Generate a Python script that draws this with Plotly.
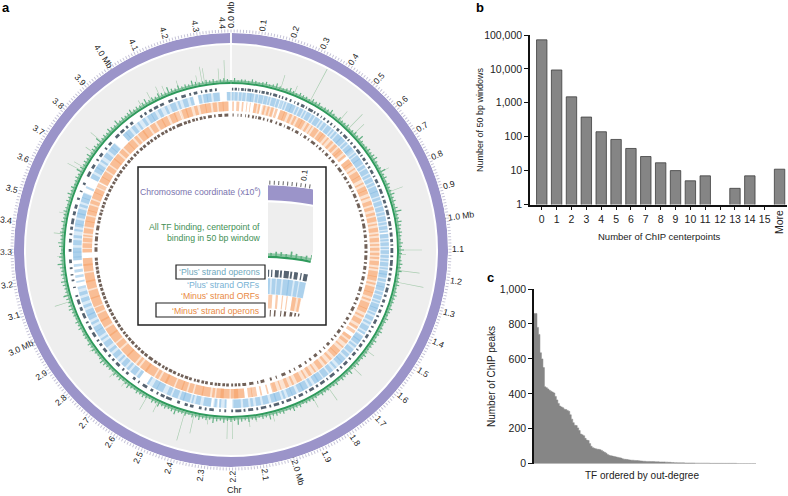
import math

import plotly.graph_objects as go

W, H = 788, 496
GENOME_MB = 4.41

# panel b
centerpoint_counts = list(range(16))
window_counts = [72000, 9300, 1500, 380, 140, 83, 45, 26, 17, 10, 5, 7, 1, 3, 7, 1, 11]
log_ticks = [1, 10, 100, 1000, 10000, 100000]
log_labels = ["1", "10", "100", "1,000", "10,000", "100,000"]

# panel c
tf_peaks = [
    860, 860, 780, 740, 635, 600, 550, 440, 435, 428, 420, 415, 410, 405, 385, 365, 345, 330, 325, 320,
    312, 310, 305, 300, 280, 255, 235, 220, 218, 205, 190, 170, 165, 160, 145, 135, 133, 115, 100, 92,
    88, 85, 83, 82, 80, 76, 70, 65, 60, 52, 48, 46, 44, 42, 40, 38, 36, 34, 32, 28,
    26, 25, 24, 22, 21, 20, 20, 19, 18, 18, 17, 16, 15, 14, 14, 13, 13, 13, 12, 12,
    12, 11, 11, 11, 10, 10, 10, 10, 9, 9, 8, 8, 7, 7, 6, 6, 5, 5, 5, 5,
    5, 4, 4, 4, 4, 4, 4, 4, 3, 3, 3, 3, 3, 3, 3, 3, 3, 3, 2, 2,
    2, 2, 2, 2, 2, 2, 2, 2, 2, 2, 2, 2, 2, 2, 2, 2, 1, 1, 1, 1,
    1, 1, 1, 1, 1, 1, 1, 1, 1, 1,
]
peak_ticks = [0, 200, 400, 600, 800, 1000]
peak_labels = ["0", "200", "400", "600", "800", "1,000"]

# genome labels, Mb
coord_ticks = [round(i * 0.1, 1) for i in range(45)]
whole_mb_ticks = [0, 1, 2, 3, 4]

# tall binding peaks: position (Mb), height
tall_pos = [
    4.384, 4.29, 4.30, 4.36, 4.19, 4.27, 4.13, 4.106, 4.066, 4.02, 3.97, 3.797, 3.74, 3.667, 3.65,
    3.46, 3.375, 3.28, 3.12, 3.09, 2.87, 2.74, 2.68, 2.57, 2.52, 2.40, 2.36, 2.30, 2.22, 2.20, 2.13,
    2.10, 2.03, 1.85, 1.773, 1.64, 1.55, 1.237, 1.188, 1.12, 1.1025, 0.855, 0.765, 0.571, 0.54, 0.49,
    0.343, 0.27, 0.21,
]
tall_height = [
    22, 18, 16, 14, 10, 10, 10, 12, 11, 8, 6, 15, 10, 12, 17,
    8, 10, 6, 5, 17, 6, 8, 7, 16, 12, 30, 20, 8, 21, 21, 10,
    6, 9, 12, 16, 13, 10, 28, 22, 7, 23, 15, 10, 15, 21, 13,
    37, 9, 15,
]

# short binding signal, evenly spaced round the chromosome
binding_signal = [
    2, 4, 2, 3, 3, 2, 4, 3, 2, 3, 4, 2, 3, 5, 3, 2, 3, 5, 3, 2, 4, 3, 3, 2, 4, 3, 4, 2, 3, 3,
    5, 3, 2, 4, 3, 3, 4, 2, 3, 4, 3, 6, 3, 2, 3, 4, 3, 4, 5, 3, 2, 3, 6, 3, 4, 2, 4, 3, 3, 5,
    3, 4, 2, 4, 7, 3, 3, 5, 4, 3, 4, 3, 2, 4, 3, 5, 3, 2, 3, 4, 3, 4, 2, 3, 3, 4, 2, 3, 4, 3,
    3, 2, 4, 3, 2, 4, 3, 2, 3, 4, 3, 2, 4, 3, 3, 2, 3, 4, 3, 2, 4, 3, 2, 5, 3, 3, 4, 2, 4, 3,
    2, 3, 3, 4, 2, 3, 4, 3, 3, 2, 4, 3, 5, 3, 2, 4, 3, 4, 3, 6, 3, 4, 2, 4, 3, 5, 3, 4, 7, 3,
    4, 3, 5, 3, 4, 6, 3, 4, 3, 5, 3, 4, 2, 4, 3, 3, 6, 4, 3, 4, 3, 5, 3, 4, 2, 3, 4, 3, 4, 2,
    3, 5, 3, 2, 4, 3, 4, 2, 3, 3, 4, 5, 3, 2, 3, 4, 3, 4, 2, 3, 3, 2, 4, 3, 4, 2, 3, 3, 5, 4,
    3, 4, 6, 3, 3, 4, 5, 3, 4, 3, 4, 6, 3, 4, 3, 2, 4, 5, 3, 3, 4, 3, 2, 4, 3, 3, 4, 3, 2, 4,
    3, 5, 3, 4, 2, 3, 4, 3, 6, 4, 3, 4, 3, 5, 3, 4, 4, 3, 7, 3, 4, 3, 5, 4, 3, 6, 3, 4, 3, 4,
    5, 3, 4, 3, 4, 6, 3, 4, 3, 5, 4, 3, 7, 4, 3, 5, 3, 4, 3, 6, 4, 3, 3, 4, 3, 4, 2, 3, 4, 3,
]

plus_operons = [
    (0.004, 0.010), (0.016, 0.026), (0.032, 0.036), (0.044, 0.056), (0.060, 0.066), (0.072, 0.088), (0.092, 0.098),
    (0.104, 0.116), (0.124, 0.128), (0.134, 0.148), (0.154, 0.166), (0.172, 0.178), (0.186, 0.204), (0.212, 0.218),
    (0.226, 0.232), (0.242, 0.250), (0.262, 0.270), (0.284, 0.288), (0.298, 0.306), (0.316, 0.332), (0.340, 0.344),
    (0.352, 0.374), (0.380, 0.386), (0.396, 0.404), (0.416, 0.420), (0.430, 0.438), (0.450, 0.458), (0.468, 0.476),
    (0.488, 0.492), (0.504, 0.516), (0.526, 0.532), (0.544, 0.564), (0.572, 0.578), (0.590, 0.598), (0.610, 0.620),
    (0.630, 0.652), (0.660, 0.666), (0.676, 0.690), (0.700, 0.708), (0.720, 0.728), (0.738, 0.756), (0.766, 0.772),
    (0.784, 0.802), (0.812, 0.820), (0.830, 0.852), (0.862, 0.870), (0.880, 0.896), (0.906, 0.916), (0.926, 0.950),
    (0.958, 0.966), (0.976, 0.998), (1.006, 1.014), (1.026, 1.044), (1.054, 1.068), (1.078, 1.084), (1.094, 1.116),
    (1.126, 1.134), (1.146, 1.172), (1.180, 1.192), (1.204, 1.214), (1.224, 1.240), (1.252, 1.258), (1.268, 1.290),
    (1.300, 1.310), (1.322, 1.336), (1.348, 1.356), (1.368, 1.384), (1.396, 1.404), (1.416, 1.436), (1.448, 1.456),
    (1.470, 1.478), (1.490, 1.508), (1.520, 1.528), (1.540, 1.556), (1.568, 1.574), (1.586, 1.604), (1.618, 1.626),
    (1.640, 1.660), (1.672, 1.680), (1.692, 1.700), (1.716, 1.740), (1.752, 1.758), (1.770, 1.792), (1.804, 1.814),
    (1.826, 1.848), (1.860, 1.866), (1.880, 1.900), (1.914, 1.922), (1.936, 1.958), (1.970, 1.980), (1.992, 2.016),
    (2.028, 2.036), (2.050, 2.074), (2.086, 2.094), (2.108, 2.130), (2.142, 2.150), (2.160, 2.186), (2.196, 2.204),
    (2.226, 2.234), (2.250, 2.256), (2.280, 2.300), (2.312, 2.320), (2.334, 2.346), (2.370, 2.386), (2.396, 2.410),
    (2.432, 2.444), (2.470, 2.496), (2.504, 2.522), (2.534, 2.542), (2.560, 2.572), (2.590, 2.612), (2.630, 2.636),
    (2.652, 2.664), (2.690, 2.702), (2.716, 2.724), (2.742, 2.762), (2.776, 2.786), (2.800, 2.810), (2.826, 2.846),
    (2.860, 2.872), (2.884, 2.892), (2.908, 2.930), (2.944, 2.962), (2.976, 2.984), (3.000, 3.024), (3.036, 3.052),
    (3.066, 3.088), (3.100, 3.108), (3.140, 3.146), (3.170, 3.178), (3.196, 3.202), (3.224, 3.232), (3.250, 3.266),
    (3.300, 3.312), (3.340, 3.356), (3.372, 3.380), (3.396, 3.410), (3.420, 3.446), (3.460, 3.478), (3.490, 3.508),
    (3.530, 3.540), (3.566, 3.572), (3.600, 3.610), (3.640, 3.664), (3.680, 3.700), (3.720, 3.728), (3.742, 3.760),
    (3.782, 3.790), (3.806, 3.822), (3.850, 3.870), (3.880, 3.900), (3.912, 3.922), (3.936, 3.950), (3.990, 4.000),
    (4.012, 4.022), (4.036, 4.050), (4.060, 4.080), (4.090, 4.108), (4.130, 4.150), (4.162, 4.170), (4.190, 4.210),
    (4.226, 4.234), (4.246, 4.262), (4.278, 4.284), (4.296, 4.306), (4.316, 4.328), (4.340, 4.348),
]

# stretches of the ORF rings that are covered, with the white gaps left out
plus_regions = [
    (0.002, 0.222), (0.235, 0.620), (0.630, 1.020), (1.030, 1.500), (1.505, 2.200), (2.225, 2.260), (2.265, 2.285),
    (2.295, 2.600), (2.640, 3.130), (3.260, 3.570), (3.640, 3.830), (3.880, 4.240), (4.260, 4.360), (4.390, 4.408),
]
minus_regions = [
    (0.110, 0.142), (0.150, 0.210), (0.240, 0.620), (0.640, 1.500), (1.540, 2.000), (2.140, 3.268), (3.296, 3.620),
    (3.640, 4.140), (4.160, 4.400),
]

plus_orfs = [
    (0.003, 0.012), (0.016, 0.030), (0.036, 0.048), (0.052, 0.066), (0.072, 0.092), (0.088, 0.104), (0.110, 0.122),
    (0.126, 0.146), (0.150, 0.166), (0.170, 0.178), (0.184, 0.204), (0.208, 0.220), (0.224, 0.238), (0.244, 0.252),
    (0.258, 0.280), (0.276, 0.296), (0.302, 0.312), (0.318, 0.334), (0.340, 0.348), (0.354, 0.374), (0.380, 0.392),
    (0.398, 0.420), (0.426, 0.434), (0.442, 0.456), (0.462, 0.484), (0.490, 0.498), (0.506, 0.516), (0.522, 0.548),
    (0.542, 0.566), (0.572, 0.584), (0.590, 0.612), (0.606, 0.630), (0.636, 0.644), (0.650, 0.672), (0.668, 0.696),
    (0.702, 0.716), (0.722, 0.744), (0.750, 0.762), (0.768, 0.786), (0.792, 0.804), (0.810, 0.836), (0.832, 0.856),
    (0.862, 0.874), (0.880, 0.900), (0.906, 0.926), (0.932, 0.944), (0.950, 0.972), (0.978, 0.988), (0.994, 1.010),
    (1.016, 1.024), (1.030, 1.048), (1.054, 1.062), (1.068, 1.084), (1.090, 1.098), (1.104, 1.120), (1.126, 1.138),
    (1.144, 1.152), (1.158, 1.176), (1.182, 1.190), (1.196, 1.214), (1.210, 1.228), (1.234, 1.246), (1.252, 1.272),
    (1.268, 1.288), (1.294, 1.306), (1.312, 1.330), (1.336, 1.344), (1.350, 1.372), (1.368, 1.388), (1.394, 1.402),
    (1.412, 1.430), (1.438, 1.448), (1.458, 1.482), (1.490, 1.500), (1.510, 1.536), (1.530, 1.552), (1.560, 1.570),
    (1.580, 1.602), (1.610, 1.626), (1.636, 1.660), (1.654, 1.676), (1.690, 1.700), (1.712, 1.730), (1.738, 1.764),
    (1.770, 1.796), (1.790, 1.812), (1.824, 1.836), (1.846, 1.874), (1.868, 1.892), (1.904, 1.926), (1.922, 1.944),
    (1.956, 1.966), (1.976, 2.004), (1.998, 2.022), (2.034, 2.060), (2.070, 2.092), (2.104, 2.116), (2.126, 2.150),
    (2.160, 2.194), (2.226, 2.234), (2.250, 2.258), (2.270, 2.280), (2.296, 2.330), (2.344, 2.366), (2.376, 2.384),
    (2.392, 2.424), (2.418, 2.438), (2.448, 2.474), (2.482, 2.500), (2.520, 2.552), (2.548, 2.572), (2.590, 2.600),
    (2.640, 2.654), (2.664, 2.690), (2.700, 2.712), (2.722, 2.744), (2.754, 2.764), (2.776, 2.800), (2.812, 2.826),
    (2.840, 2.866), (2.878, 2.888), (2.900, 2.928), (2.924, 2.948), (2.960, 2.972), (2.984, 3.010), (3.004, 3.030),
    (3.042, 3.056), (3.070, 3.088), (3.100, 3.116), (3.130, 3.142), (3.160, 3.168), (3.182, 3.194), (3.206, 3.220),
    (3.232, 3.244), (3.262, 3.278), (3.274, 3.300), (3.296, 3.318), (3.330, 3.352), (3.362, 3.374), (3.392, 3.402),
    (3.412, 3.426), (3.422, 3.444), (3.454, 3.476), (3.470, 3.494), (3.504, 3.516), (3.526, 3.548), (3.544, 3.566),
    (3.590, 3.600), (3.640, 3.662), (3.674, 3.698), (3.692, 3.714), (3.726, 3.736), (3.752, 3.774), (3.786, 3.808),
    (3.804, 3.826), (3.880, 3.900), (3.896, 3.918), (3.930, 3.948), (3.962, 3.972), (3.990, 4.004), (4.016, 4.040),
    (4.036, 4.056), (4.070, 4.086), (4.104, 4.116), (4.130, 4.156), (4.166, 4.176), (4.190, 4.212), (4.224, 4.238),
    (4.262, 4.276), (4.284, 4.304), (4.300, 4.320), (4.330, 4.358), (4.392, 4.408),
]

minus_orfs = [
    (0.006, 0.014), (0.026, 0.040), (0.052, 0.060), (0.074, 0.078), (0.090, 0.094), (0.110, 0.124), (0.132, 0.140),
    (0.156, 0.166), (0.176, 0.186), (0.194, 0.206), (0.214, 0.226), (0.238, 0.262), (0.258, 0.274), (0.286, 0.300),
    (0.310, 0.322), (0.332, 0.354), (0.350, 0.368), (0.380, 0.392), (0.404, 0.410), (0.420, 0.444), (0.452, 0.472),
    (0.468, 0.486), (0.498, 0.506), (0.520, 0.534), (0.544, 0.560), (0.570, 0.586), (0.582, 0.600), (0.612, 0.624),
    (0.640, 0.664), (0.660, 0.676), (0.690, 0.698), (0.710, 0.738), (0.734, 0.754), (0.770, 0.778), (0.790, 0.812),
    (0.808, 0.828), (0.842, 0.850), (0.864, 0.884), (0.894, 0.910), (0.922, 0.936), (0.944, 0.966), (0.976, 0.984),
    (0.996, 1.016), (1.026, 1.034), (1.044, 1.064), (1.074, 1.082), (1.092, 1.106), (1.116, 1.128), (1.136, 1.146),
    (1.156, 1.176), (1.186, 1.194), (1.204, 1.232), (1.228, 1.250), (1.260, 1.270), (1.280, 1.310), (1.306, 1.328),
    (1.340, 1.350), (1.360, 1.392), (1.388, 1.410), (1.424, 1.434), (1.446, 1.470), (1.484, 1.496), (1.506, 1.522),
    (1.540, 1.556), (1.566, 1.582), (1.600, 1.608), (1.624, 1.650), (1.646, 1.666), (1.680, 1.692), (1.710, 1.722),
    (1.736, 1.760), (1.776, 1.784), (1.800, 1.816), (1.830, 1.838), (1.854, 1.880), (1.896, 1.906), (1.922, 1.938),
    (1.960, 1.966), (1.982, 2.006), (2.024, 2.032), (2.056, 2.064), (2.080, 2.106), (2.102, 2.124), (2.140, 2.190),
    (2.170, 2.206), (2.212, 2.256), (2.240, 2.276), (2.284, 2.296), (2.306, 2.346), (2.340, 2.382), (2.390, 2.412),
    (2.420, 2.446), (2.440, 2.476), (2.484, 2.530), (2.520, 2.556), (2.566, 2.582), (2.590, 2.640), (2.630, 2.668),
    (2.678, 2.690), (2.700, 2.752), (2.744, 2.790), (2.800, 2.826), (2.834, 2.880), (2.872, 2.912), (2.922, 2.960),
    (2.952, 2.992), (3.000, 3.024), (3.030, 3.076), (3.070, 3.110), (3.118, 3.160), (3.152, 3.196), (3.204, 3.240),
    (3.232, 3.268), (3.296, 3.312), (3.318, 3.340), (3.346, 3.366), (3.372, 3.380), (3.388, 3.412), (3.420, 3.448),
    (3.444, 3.470), (3.478, 3.500), (3.496, 3.524), (3.532, 3.550), (3.558, 3.590), (3.586, 3.610), (3.618, 3.636),
    (3.644, 3.672), (3.668, 3.700), (3.708, 3.732), (3.740, 3.776), (3.770, 3.802), (3.812, 3.834), (3.842, 3.876),
    (3.872, 3.900), (3.910, 3.926), (3.934, 3.968), (3.960, 3.994), (4.004, 4.030), (4.040, 4.072), (4.066, 4.096),
    (4.108, 4.136), (4.132, 4.158), (4.170, 4.196), (4.190, 4.218), (4.232, 4.248), (4.260, 4.290), (4.286, 4.312),
    (4.322, 4.342), (4.350, 4.374), (4.370, 4.396),
]

minus_operons = [
    (0.008, 0.014), (0.034, 0.038), (0.050, 0.056), (0.074, 0.078), (0.088, 0.096), (0.110, 0.120), (0.128, 0.134),
    (0.142, 0.158), (0.168, 0.176), (0.190, 0.196), (0.206, 0.218), (0.236, 0.244), (0.256, 0.270), (0.284, 0.288),
    (0.300, 0.318), (0.330, 0.336), (0.348, 0.366), (0.380, 0.384), (0.400, 0.414), (0.426, 0.432), (0.446, 0.470),
    (0.482, 0.488), (0.500, 0.512), (0.524, 0.530), (0.544, 0.560), (0.572, 0.580), (0.592, 0.610), (0.624, 0.630),
    (0.644, 0.670), (0.682, 0.688), (0.700, 0.718), (0.730, 0.738), (0.750, 0.772), (0.784, 0.790), (0.802, 0.824),
    (0.836, 0.844), (0.856, 0.880), (0.892, 0.900), (0.912, 0.930), (0.942, 0.952), (0.964, 0.990), (1.000, 1.010),
    (1.022, 1.040), (1.052, 1.060), (1.072, 1.096), (1.106, 1.118), (1.130, 1.154), (1.166, 1.174), (1.186, 1.206),
    (1.218, 1.226), (1.240, 1.262), (1.274, 1.282), (1.296, 1.320), (1.332, 1.340), (1.354, 1.370), (1.384, 1.392),
    (1.406, 1.430), (1.444, 1.452), (1.468, 1.484), (1.498, 1.506), (1.522, 1.530), (1.546, 1.566), (1.582, 1.590),
    (1.606, 1.614), (1.634, 1.650), (1.668, 1.674), (1.694, 1.702), (1.722, 1.740), (1.760, 1.770), (1.790, 1.798),
    (1.820, 1.836), (1.858, 1.864), (1.884, 1.892), (1.914, 1.936), (1.962, 1.968), (1.990, 2.000), (2.030, 2.050),
    (2.062, 2.068), (2.088, 2.110), (2.126, 2.146), (2.156, 2.168), (2.174, 2.186), (2.194, 2.204), (2.216, 2.230),
    (2.236, 2.250), (2.260, 2.274), (2.278, 2.290), (2.300, 2.314), (2.326, 2.340), (2.346, 2.360), (2.370, 2.384),
    (2.390, 2.400), (2.412, 2.426), (2.432, 2.450), (2.458, 2.472), (2.478, 2.490), (2.500, 2.516), (2.522, 2.540),
    (2.548, 2.562), (2.568, 2.580), (2.590, 2.606), (2.612, 2.630), (2.640, 2.664), (2.674, 2.692), (2.698, 2.716),
    (2.724, 2.738), (2.744, 2.758), (2.768, 2.786), (2.792, 2.810), (2.818, 2.832), (2.838, 2.850), (2.860, 2.876),
    (2.882, 2.900), (2.908, 2.924), (2.930, 2.944), (2.952, 2.968), (2.974, 2.990), (3.000, 3.016), (3.022, 3.038),
    (3.046, 3.062), (3.068, 3.084), (3.092, 3.108), (3.114, 3.130), (3.138, 3.154), (3.160, 3.176), (3.184, 3.200),
    (3.206, 3.220), (3.228, 3.246), (3.252, 3.268), (3.298, 3.322), (3.332, 3.340), (3.352, 3.378), (3.388, 3.396),
    (3.410, 3.436), (3.446, 3.460), (3.466, 3.480), (3.490, 3.504), (3.510, 3.520), (3.530, 3.544), (3.550, 3.562),
    (3.572, 3.588), (3.594, 3.610), (3.620, 3.636), (3.642, 3.656), (3.666, 3.680), (3.686, 3.700), (3.710, 3.726),
    (3.732, 3.748), (3.758, 3.772), (3.778, 3.790), (3.800, 3.816), (3.822, 3.838), (3.848, 3.862), (3.868, 3.880),
    (3.892, 3.908), (3.914, 3.930), (3.940, 3.956), (3.962, 3.976), (3.986, 4.000), (4.006, 4.020), (4.030, 4.046),
    (4.052, 4.066), (4.076, 4.090), (4.096, 4.110), (4.120, 4.150), (4.160, 4.176), (4.182, 4.196), (4.206, 4.220),
    (4.226, 4.236), (4.246, 4.260), (4.266, 4.278), (4.290, 4.310), (4.322, 4.330), (4.344, 4.364), (4.376, 4.396),
]

PURPLE = "#9B94C9"
GREY = "#EEEEEE"
FONT = "Liberation Sans"

MAIN_RINGS = {
    "purple": (207, 217), "grey": (168, 205), "green": (166, 168), "plus_op": (159.5, 162.3),
    "plus": (149.5, 158), "minus": (139, 148.5), "minus_op": (133.5, 136.5),
}
INSET_RINGS = {
    "purple": (206.5, 217), "grey": (168, 205), "green": (166.2, 167.8), "plus_op": (153, 158),
    "plus": (141, 152), "minus": (131, 140.6), "minus_op": (124.6, 130),
}


def deg(mb):
    return mb / GENOME_MB * 360


def add_spans(fig, spans, ring, color, opacity, subplot):
    fig.add_trace(go.Barpolar(
        theta=[deg((a + b) / 2) for a, b in spans],
        width=[deg(b - a) for a, b in spans],
        r=[ring[1] - ring[0]] * len(spans),
        base=[ring[0]] * len(spans),
        marker=dict(color=color, opacity=opacity, line_width=0),
        subplot=subplot, hoverinfo="skip",
    ))


def radial_ticks(fig, positions, top, length, width, color, subplot):
    r_vals, theta_vals = [], []
    for t in positions:
        r_vals += [top, top + length, None]
        theta_vals += [deg(t), deg(t), None]
    fig.add_trace(go.Scatterpolar(
        r=r_vals, theta=theta_vals, mode="lines", cliponaxis=False,
        line=dict(color=color, width=width), subplot=subplot, hoverinfo="skip",
    ))


def add_genome(fig, rings, subplot, major_len):
    # the two solid rings leave a small gap at the origin
    for key, color in (("purple", PURPLE), ("grey", GREY)):
        low, high = rings[key]
        fig.add_trace(go.Barpolar(
            theta=[180], width=[359.5], r=[high - low], base=[low],
            marker=dict(color=color, line_width=0), subplot=subplot, hoverinfo="skip",
        ))
    green_low, green_high = rings["green"]
    fig.add_trace(go.Barpolar(
        theta=[180], width=[359.9], r=[1.8], base=[green_high],
        marker=dict(color="#8CC7A4", line_width=0), subplot=subplot, hoverinfo="skip",
    ))
    fig.add_trace(go.Barpolar(
        theta=[180], width=[359.9], r=[green_high - green_low], base=[green_low],
        marker=dict(color="#2F9A5C", line_width=0), subplot=subplot, hoverinfo="skip",
    ))
    fig.add_trace(go.Barpolar(
        theta=[deg(p) for p in tall_pos], width=[0.2] * len(tall_pos),
        r=tall_height, base=[green_high] * len(tall_pos),
        marker=dict(color="#A9CDB0", line_width=0), subplot=subplot, hoverinfo="skip",
    ))
    step = GENOME_MB / len(binding_signal)
    fig.add_trace(go.Barpolar(
        theta=[deg(i * step) for i in range(len(binding_signal))],
        width=[0.4] * len(binding_signal),
        r=binding_signal, base=[green_high] * len(binding_signal),
        marker=dict(color="#62B083", line_width=0), subplot=subplot, hoverinfo="skip",
    ))
    add_spans(fig, plus_operons, rings["plus_op"], "#16283A", 0.72, subplot)
    add_spans(fig, plus_regions, rings["plus"], "#7DB8E2", 0.28, subplot)
    add_spans(fig, plus_orfs, rings["plus"], "#7DB8E2", 0.5, subplot)
    add_spans(fig, minus_regions, rings["minus"], "#F59A5B", 0.28, subplot)
    add_spans(fig, minus_orfs, rings["minus"], "#F59A5B", 0.5, subplot)
    add_spans(fig, minus_operons, rings["minus_op"], "#3A2418", 0.72, subplot)
    # major ticks sit outside the radial range
    top = rings["purple"][1]
    if major_len:
        radial_ticks(fig, coord_ticks, top, major_len, 0.8, "#555555", subplot)
        radial_ticks(fig, whole_mb_ticks, top, major_len, 2, "#111111", subplot)


def polar_layout(domain_x, domain_y, radial_low, hole, sector, ticklen, tickcolor):
    minor = [deg(i * 0.01) for i in range(441)]
    return dict(
        domain=dict(x=domain_x, y=domain_y),
        bgcolor="white", barmode="overlay", hole=hole, sector=sector,
        radialaxis=dict(visible=False, range=[radial_low, 217]),
        angularaxis=dict(
            rotation=90, direction="clockwise", thetaunit="degrees", showgrid=False, showline=False,
            tickmode="array", tickvals=minor, showticklabels=False,
            ticks="outside", ticklen=ticklen, tickcolor=tickcolor, tickwidth=0.6,
        ),
    )


def px_x(x):
    return x / W


def px_y(y):
    return (H - y) / H


fig = go.Figure()
add_genome(fig, MAIN_RINGS, "polar", 4)
add_genome(fig, INSET_RINGS, "polar2", 0)

CX, CY, R = 231, 250, 217
notes = []


def note(text, x, y, size=9, color="#222222", angle=0, anchor="center", bold=False):
    notes.append(dict(
        text=f"<b>{text}</b>" if bold else text, x=px_x(x), y=px_y(y), xref="paper", yref="paper",
        showarrow=False, xanchor=anchor, yanchor="middle", textangle=angle,
        font=dict(family=FONT, size=size, color=color),
    ))


for t in coord_ticks:
    if t > 4.4:
        continue
    theta = deg(t)
    whole = abs(t - round(t)) < 1e-9 and t < 4.4
    label = f"{t:.1f} Mb" if whole else f"{t:.1f}"
    dist = 232 if whole else 227
    if t == 0:
        dist = 235
    if t == 3.3:
        dist = 225  # stays inside the page
    angle = theta - 270 if theta >= 175 else theta - 90
    if t == 0:
        angle = -90
    if t == 4.4:
        theta -= 1.4  # nudged off the 0.0 label
    rad = math.radians(theta)
    lx = CX + dist * math.sin(rad)
    ly = CY - dist * math.cos(rad)
    note(label, lx, ly, size=8.6, angle=angle)

note("Chr", 235, 490, size=9)
note("a", 6, 8, size=13, color="black", bold=True)
note("b", 480, 7, size=13, color="black", bold=True)
note("c", 490, 277, size=13, color="black", bold=True)

# inset labels
note("Chromosome coordinate (x10<sup>6</sup>)", 263, 191, size=8.7, color="#7A73AE", anchor="right")
note("All TF binding, centerpoint of", 262, 227, size=8.7, color="#3F8F55", anchor="right")
note("binding in 50 bp window", 262, 237.5, size=8.7, color="#3F8F55", anchor="right")
note("‘Plus’ strand operons", 262, 271.5, size=8.7, color="#6FA9BD", anchor="right")
note("‘Plus’ strand ORFs", 262, 284.5, size=8.7, color="#78B2D4", anchor="right")
note("‘Minus’ strand ORFs", 262, 295.5, size=8.7, color="#E98A45", anchor="right")
note("‘Minus’ strand operons", 262, 310.5, size=8.7, color="#E98A45", anchor="right")
note("0.1", 305, 175, size=8, color="#222222", angle=-82)

note("More", 779, 222, size=10.5, angle=-90)
note("Number of ChIP centerpoints", 659, 236.5, size=9.5)
note("Number of 50 bp windows", 480, 120, size=9, angle=-90)
note("Number of ChIP peaks", 491, 376, size=10, angle=-90)
note("TF ordered by out-degree", 642, 475, size=10)


def rect(x0, y0, x1, y1, fill=None, line=None, width=1.5):
    return dict(
        type="rect", xref="paper", yref="paper", layer="above",
        x0=px_x(x0), x1=px_x(x1), y0=px_y(y0), y1=px_y(y1),
        fillcolor=fill if fill else "rgba(0,0,0,0)",
        line=dict(color=line if line else "rgba(0,0,0,0)", width=width if line else 0),
    )


shapes = [
    # crop of the zoomed wedge
    rect(248, 168, 268, 324, fill="white"),
    rect(313, 168, 325, 324, fill="white"),
    rect(248, 316.5, 325, 324, fill="white"),
    rect(248, 168, 325, 180, fill="white"),
    # frames
    rect(138, 167, 326, 325, line="#222222", width=1.5),
    rect(176, 265, 265, 279, line="#222222", width=1.2),
    rect(156, 303, 265, 317, line="#222222", width=1.2),
]

# panel b: a count of 1 sits on the axis, so it gets no bar
fig.add_trace(go.Bar(
    x=centerpoint_counts + [16], y=[v if v > 1 else None for v in window_counts], width=0.7,
    marker=dict(color="#858585", line=dict(color="#3D3D3D", width=0.8)),
    xaxis="x", yaxis="y", hoverinfo="skip",
))
# panel c: touching bars, a filled step line avoids seams between them
fig.add_trace(go.Scatter(
    x=list(range(len(tf_peaks))), y=tf_peaks, mode="lines", fill="tozeroy",
    fillcolor="#868686", line=dict(color="#868686", width=0.5, shape="hv"),
    xaxis="x2", yaxis="y2", hoverinfo="skip",
))

tick_font = dict(family=FONT, size=10.5, color="#222222")
fig.update_layout(
    width=W, height=H,
    autosize=False,
    margin=dict(l=0, r=0, t=0, b=0, autoexpand=False),
    paper_bgcolor="white",
    plot_bgcolor="white",
    showlegend=False,
    barmode="overlay",
    polar=polar_layout([14 / W, 448 / W], [(H - CY - R) / H, (H - CY + R) / H], 0, 0, [0, 360], 3, "#C6C4D8"),
    polar2=polar_layout([250 / W, 325.6 / W], [0, 311 / H], 115, 115 / 217, [78, 92], 4, "#666666"),
    xaxis=dict(
        domain=[530 / W, 787 / W], range=[-0.79, 16.5], anchor="y",
        tickmode="array", tickvals=centerpoint_counts, ticks="outside", ticklen=4,
        showgrid=False, showline=True, linecolor="#111111", linewidth=1.5, tickcolor="#111111",
        tickfont=tick_font, zeroline=False,
    ),
    yaxis=dict(
        domain=[(H - 204.5) / H, (H - 35) / H], type="log", range=[0, 5], anchor="x",
        tickmode="array", tickvals=log_ticks, ticktext=log_labels, ticks="outside", ticklen=4,
        showgrid=False, showline=True, linecolor="#111111", linewidth=1.5, tickcolor="#111111",
        tickfont=tick_font, zeroline=False,
    ),
    xaxis2=dict(
        domain=[534 / W, 756 / W], range=[0, len(tf_peaks) - 1], anchor="y2",
        showticklabels=False, ticks="", showgrid=False, showline=False, zeroline=False,
    ),
    yaxis2=dict(
        domain=[(H - 463.7) / H, (H - 289) / H], range=[0, 1000], anchor="x2",
        tickmode="array", tickvals=peak_ticks, ticktext=peak_labels, ticks="outside", ticklen=4,
        showgrid=False, showline=True, linecolor="#111111", linewidth=1.5, tickcolor="#111111",
        tickfont=tick_font, zeroline=False,
    ),
    annotations=notes,
    shapes=shapes,
)

# the page's default body margin would push the figure off the window
fig.write_html(
    "out.html",
    config={"displayModeBar": False},
    post_script="document.body.style.margin='0';",
)
